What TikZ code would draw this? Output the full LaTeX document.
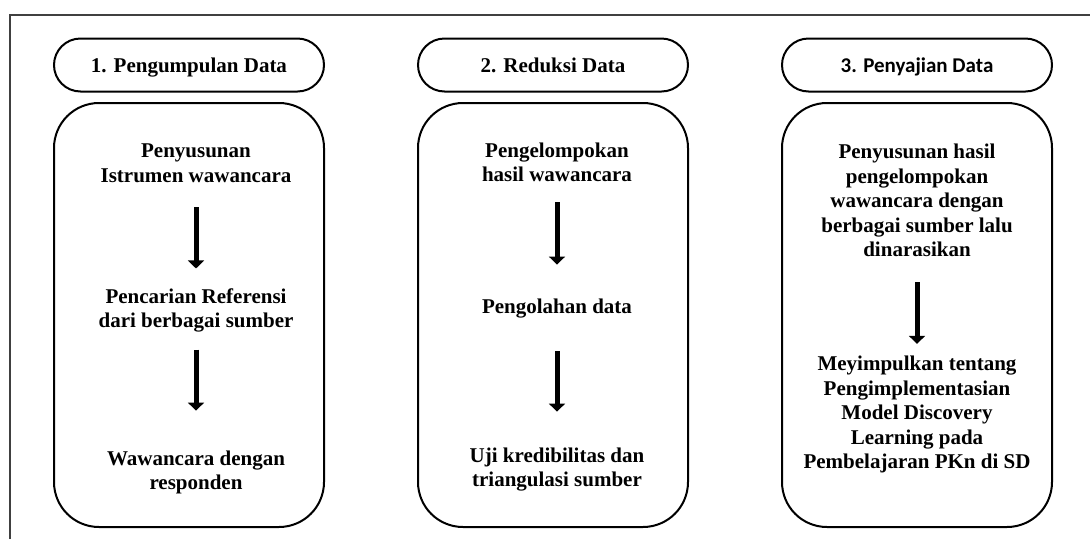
\documentclass[tikz,border=0pt]{standalone}
\usepackage{fontspec}
\setmainfont{Liberation Serif}
\newfontfamily\calfont{Carlito}
\usepackage{tikz}
\usetikzlibrary{arrows.meta}
\tikzset{
  bingkai/.style={draw=black!75, line width=2.4pt},
  judul/.style={draw, line width=2pt, rounded corners=26.5pt, minimum width=270pt,
    minimum height=53pt, inner sep=0pt, text height=16pt, text depth=2pt,
    font=\fontsize{21}{24.5}\selectfont\rmfamily\bfseries},
  kotak/.style={draw, line width=2pt, rounded corners=45pt, minimum width=270pt,
    minimum height=424pt, inner sep=0pt},
  isi/.style={align=center, inner sep=0pt, font=\fontsize{21}{24.5}\selectfont\rmfamily\bfseries,
    execute at begin node=\strut, execute at end node=\strut},
  panah/.style={line width=5pt, -{Triangle[width=16pt,length=8pt]}}
}

\begin{document}
\begin{tikzpicture}[x=1pt,y=-1pt]
    \useasboundingbox (0,0) rectangle (1090,539);
    \draw[bingkai] (10,539) -- (10,15) -- (1090,15);

    \begin{scope}[shift={(189,0)}]
      \node[judul] (j1) at (0,65) {1. Pengumpulan Data};
      \node[kotak] (k1) at (0,315) {};
      \node[isi] (pa) at (7,167) {Penyusunan\\Istrumen wawancara};
      \node[isi] (pb) at (7,312) {Pencarian Referensi\\dari berbagai sumber};
      \node[isi] (pc) at (7,474) {Wawancara dengan\\responden};
      \draw[panah, shorten <=17pt, shorten >=20pt] (pa) -- (pb);
      \draw[panah, shorten <=14pt, shorten >=40pt] (pb) -- (pc);
    \end{scope}

    \begin{scope}[shift={(553,0)}]
      \node[judul] (j2) at (0,65) {2. Reduksi Data};
      \node[kotak] (k2) at (0,315) {};
      \node[isi] (ra) at (4,166) {Pengelompokan\\hasil wawancara};
      \node[isi] (rb) at (4,309) {Pengolahan data};
      \node[isi] (rc) at (4,471) {Uji kredibilitas dan\\triangulasi sumber};
      \draw[panah, shorten <=13pt, shorten >=32pt] (ra) -- (rb);
      \draw[panah, shorten <=30pt, shorten >=36pt] (rb) -- (rc);
    \end{scope}

    \begin{scope}[shift={(917,0)}]
      \node[judul, font=\fontsize{21}{24.5}\selectfont\calfont\bfseries] (j3) at (0,65) {3. Penyajian Data};
      \node[kotak] (k3) at (0,315) {};
      \node[isi] (sa) at (0,204) {Penyusunan hasil\\pengelompokan\\wawancara dengan\\berbagai sumber lalu\\dinarasikan};
      \node[isi] (sb) at (0,416) {Meyimpulkan tentang\\Pengimplementasian\\Model Discovery\\Learning pada\\Pembelajaran PKn di SD};
      \draw[panah, shorten <=18pt, shorten >=12pt] (sa) -- (sb);
    \end{scope}
\end{tikzpicture}
\end{document}
